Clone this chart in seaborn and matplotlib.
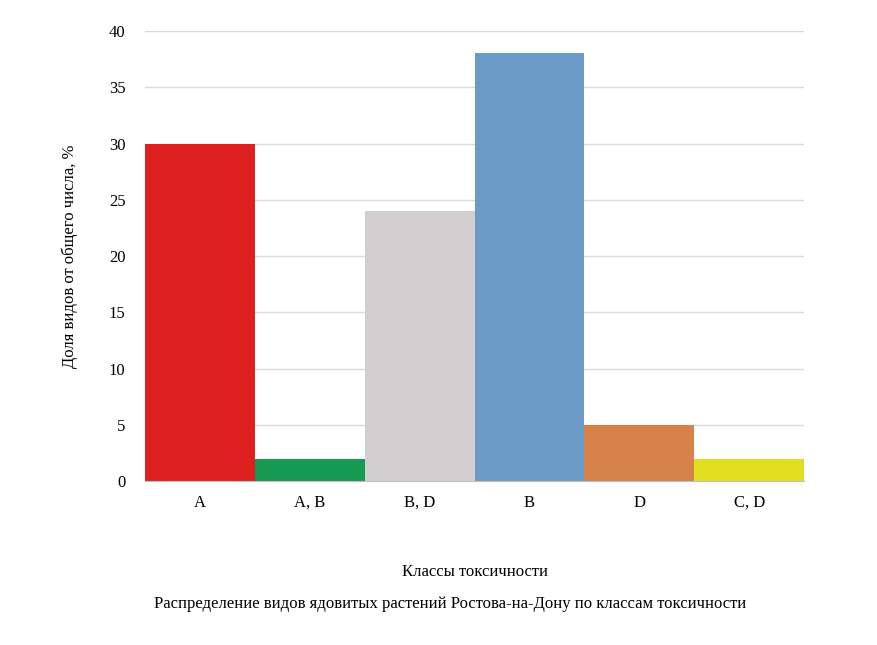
import matplotlib.pyplot as plt
import seaborn as sns
import pandas as pd

# data
classes = ['A', 'A, B', 'B, D', 'B', 'D', 'C, D']
shares = [30, 2, 24, 38, 5, 2]
colors = ['#FF0000', '#00B050', '#D0CECE', '#5B9BD5', '#ED7D31', '#FFFF00']

df = pd.DataFrame({'Класс': classes, 'Доля': shares})

plt.rcParams['font.family'] = 'Liberation Serif'
fig = plt.figure(figsize=(8.78, 6.45), dpi=100)
ax = fig.add_axes([0.165, 0.254, 0.751, 0.698])

sns.barplot(data=df, x='Класс', y='Доля', hue='Класс', palette=colors,
            width=1.0, legend=False, ax=ax, zorder=2)

ax.set_xlim(-0.5, 5.5)
ax.set_ylim(0, 40)
ax.set_yticks(range(0, 41, 5))
ax.grid(axis='y', color='#D9D9D9', linewidth=1, zorder=0)
ax.set_axisbelow(True)
for s in ['top', 'right', 'left']:
    ax.spines[s].set_visible(False)
ax.spines['bottom'].set_color('#BFBFBF')
ax.tick_params(length=0, labelsize=12, pad=10)
ax.tick_params(axis='y', pad=14)

ax.set_xlabel('Классы токсичности', fontsize=12, labelpad=38)
ax.set_ylabel('Доля видов от общего числа, %', fontsize=12, labelpad=22)
fig.text(0.513, 0.063, 'Распределение видов ядовитых растений Ростова-на-Дону по классам токсичности',
         ha='center', va='center', fontsize=12)

fig.savefig('out.png', dpi=100)
